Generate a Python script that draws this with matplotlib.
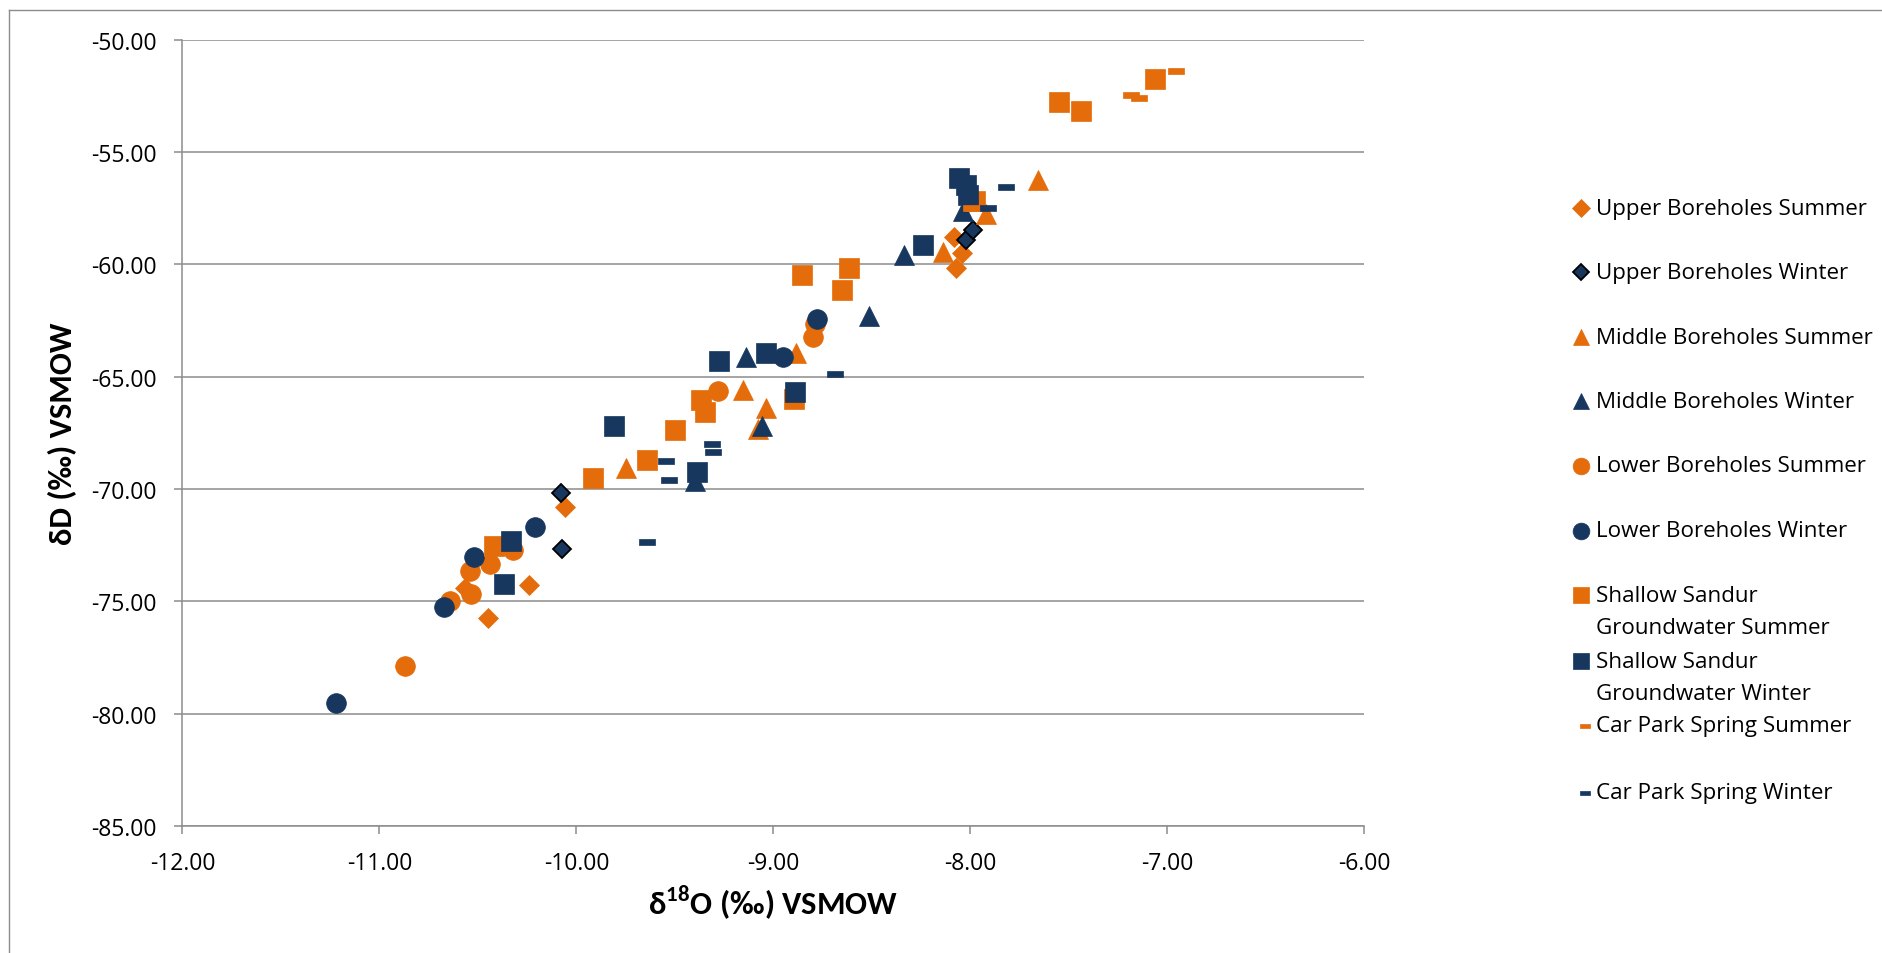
import matplotlib
matplotlib.use("Agg")
import matplotlib.pyplot as plt
from matplotlib.lines import Line2D
from matplotlib.path import Path

# Stable isotope pairs (d18O, dD) per sampling group, permil VSMOW
upper_summer_o = [-10.45, -10.565, -10.24, -10.06, -8.075, -8.044, -8.082]
upper_summer_d = [-75.74, -74.42, -74.27, -70.79, -60.17, -59.49, -58.79]

upper_winter_o = [-10.075, -10.08, -8.024, -7.985]
upper_winter_d = [-72.67, -70.16, -58.90, -58.46]

middle_summer_o = [-9.75, -9.153, -9.04, -9.08, -8.885, -8.14, -7.922, -7.658]
middle_summer_d = [-69.07, -65.58, -66.39, -67.33, -63.94, -59.46, -57.76, -56.23]

middle_winter_o = [-9.40, -9.14, -9.058, -8.515, -8.337, -8.039]
middle_winter_d = [-69.65, -64.14, -67.21, -62.28, -59.57, -57.63]

lower_summer_o = [-10.87, -10.64, -10.535, -10.54, -10.44, -10.32, -9.28, -8.80, -8.787]
lower_summer_d = [-77.90, -74.97, -74.67, -73.65, -73.35, -72.70, -65.65, -63.25, -62.65]

lower_winter_o = [-11.22, -10.67, -10.52, -10.21, -8.953, -8.78]
lower_winter_d = [-79.53, -75.27, -73.04, -71.69, -64.11, -62.43]

sandur_summer_o = [-10.42, -9.914, -9.64, -9.50, -9.37, -9.345, -8.895, -8.856,
                   -8.652, -8.616, -7.976, -7.55, -7.437, -7.063]
sandur_summer_d = [-72.52, -69.52, -68.69, -67.37, -66.05, -66.56, -65.99, -60.47,
                   -61.13, -60.17, -57.16, -52.76, -53.18, -51.73]

sandur_winter_o = [-10.33, -10.37, -9.81, -9.39, -9.276, -9.04, -8.889, -8.24,
                   -8.058, -8.022, -8.01]
sandur_winter_d = [-72.31, -74.23, -67.21, -69.26, -64.29, -63.94, -65.67, -59.14,
                   -56.15, -56.46, -56.92]

carpark_summer_o = [-7.995, -7.185, -7.146, -6.958]
carpark_summer_d = [-57.51, -52.47, -52.59, -51.39]

carpark_winter_o = [-9.64, -9.545, -9.53, -9.31, -9.305, -8.686, -7.91, -7.82]
carpark_winter_d = [-72.35, -68.74, -69.59, -67.98, -68.37, -64.87, -57.51, -56.55]

x_ticks = [-12, -11, -10, -9, -8, -7, -6]
y_ticks = [-85, -80, -75, -70, -65, -60, -55, -50]

ORANGE = "#E46C0A"
NAVY = "#17375E"
GRID = "#8C8C8C"

# flat bar marker used for the spring samples
DASH = Path([(-1, -0.41), (1, -0.41), (1, 0.41), (-1, 0.41), (-1, -0.41)],
            [Path.MOVETO, Path.LINETO, Path.LINETO, Path.LINETO, Path.CLOSEPOLY])

# label lines, x, y, marker, size (pt), face, edge, edge width
series = [
    (["Upper Boreholes Summer"], upper_summer_o, upper_summer_d, "D", 10.2, ORANGE, ORANGE, 0.5),
    (["Upper Boreholes Winter"], upper_winter_o, upper_winter_d, "D", 9.6, NAVY, "black", 1.3),
    (["Middle Boreholes Summer"], middle_summer_o, middle_summer_d, "^", 14.2, ORANGE, ORANGE, 0.5),
    (["Middle Boreholes Winter"], middle_winter_o, middle_winter_d, "^", 14.2, NAVY, NAVY, 0.5),
    (["Lower Boreholes Summer"], lower_summer_o, lower_summer_d, "o", 14.2, ORANGE, ORANGE, 0.5),
    (["Lower Boreholes Winter"], lower_winter_o, lower_winter_d, "o", 14.2, NAVY, NAVY, 0.5),
    (["Shallow Sandur", "Groundwater Summer"], sandur_summer_o, sandur_summer_d, "s", 14.0, ORANGE, ORANGE, 0.5),
    (["Shallow Sandur", "Groundwater Winter"], sandur_winter_o, sandur_winter_d, "s", 14.0, NAVY, NAVY, 0.5),
    (["Car Park Spring Summer"], carpark_summer_o, carpark_summer_d, DASH, 12.0, ORANGE, ORANGE, 0.5),
    (["Car Park Spring Winter"], carpark_winter_o, carpark_winter_d, DASH, 12.0, NAVY, NAVY, 0.5),
]

W, H = 1883, 954
fig = plt.figure(figsize=(W / 100, H / 100), dpi=100)
fig.patch.set_facecolor("white")

# plot area in pixel terms
x0, x1, y0, y1 = 182.4, 1364.4, 40.8, 826.8
ax = fig.add_axes([x0 / W, 1 - y1 / H, (x1 - x0) / W, (y1 - y0) / H])

for labels, xs, ys, mk, ms, fc, ec, ew in series:
    ax.plot(xs, ys, linestyle="none", marker=mk, markersize=ms,
            markerfacecolor=fc, markeredgecolor=ec, markeredgewidth=ew, zorder=3)

ax.set_xlim(-12, -6)
ax.set_ylim(-85, -50)
ax.set_xticks(x_ticks)
ax.set_yticks(y_ticks)
ax.set_xticklabels([f"{v:.2f}" for v in x_ticks])
ax.set_yticklabels([f"{v:.2f}" for v in y_ticks])

tick_font = "Open Sans"
for lab in ax.get_xticklabels() + ax.get_yticklabels():
    lab.set_fontfamily(tick_font)
    lab.set_fontsize(16.5)
    lab.set_color("black")

ax.tick_params(axis="both", direction="out", length=5.7, width=1.1, color=GRID, pad=12.5)
ax.grid(axis="y", color=GRID, linewidth=1.1, zorder=0)
ax.set_axisbelow(True)
for side in ["top", "right"]:
    ax.spines[side].set_visible(False)
for side in ["left", "bottom"]:
    ax.spines[side].set_color(GRID)
    ax.spines[side].set_linewidth(1.1)

title_font = ["Carlito", "DejaVu Sans"]
ax.set_xlabel("δ$^{\\mathregular{18}}$O (‰) VSMOW", family=title_font, fontweight="bold",
              fontsize=23.5, va="center")
ax.xaxis.set_label_coords(0.5, -(903 - y1) / (y1 - y0))
ax.set_ylabel("δD (‰) VSMOW", family=title_font, fontweight="bold", fontsize=23.5,
              va="center", ha="center", rotation=90, rotation_mode="default")
ax.yaxis.set_label_coords(-(x0 - 63) / (x1 - x0), 0.5)

# legend drawn by hand so wrapped entries keep the marker on their first line
leg_rows = [209, 273, 338, 402, 467, 532, 596, 662, 727, 794]
line_step = 33
for (labels, xs, ys, mk, ms, fc, ec, ew), yrow in zip(series, leg_rows):
    lms = ms * 0.85 if mk is not DASH else 7.5
    mx = 1581 if mk is not DASH else 1585
    fig.add_artist(Line2D([mx / W], [1 - yrow / H], transform=fig.transFigure,
                          linestyle="none", marker=mk, markersize=lms,
                          markerfacecolor=fc, markeredgecolor=ec, markeredgewidth=ew))
    for k, text in enumerate(labels):
        fig.text(1596 / W, 1 - (yrow + k * line_step) / H, text, family=tick_font,
                 fontsize=16.1, ha="left", va="center", color="black")

# outer chart frame (only top and left edges fall inside the image)
fig.add_artist(Line2D([9 / W, 1], [1 - 11 / H, 1 - 11 / H], transform=fig.transFigure,
                      color=GRID, linewidth=1.0))
fig.add_artist(Line2D([9 / W, 9 / W], [1 - 11 / H, 0], transform=fig.transFigure,
                      color=GRID, linewidth=1.0))

fig.savefig("out.png", dpi=100, facecolor="white")
